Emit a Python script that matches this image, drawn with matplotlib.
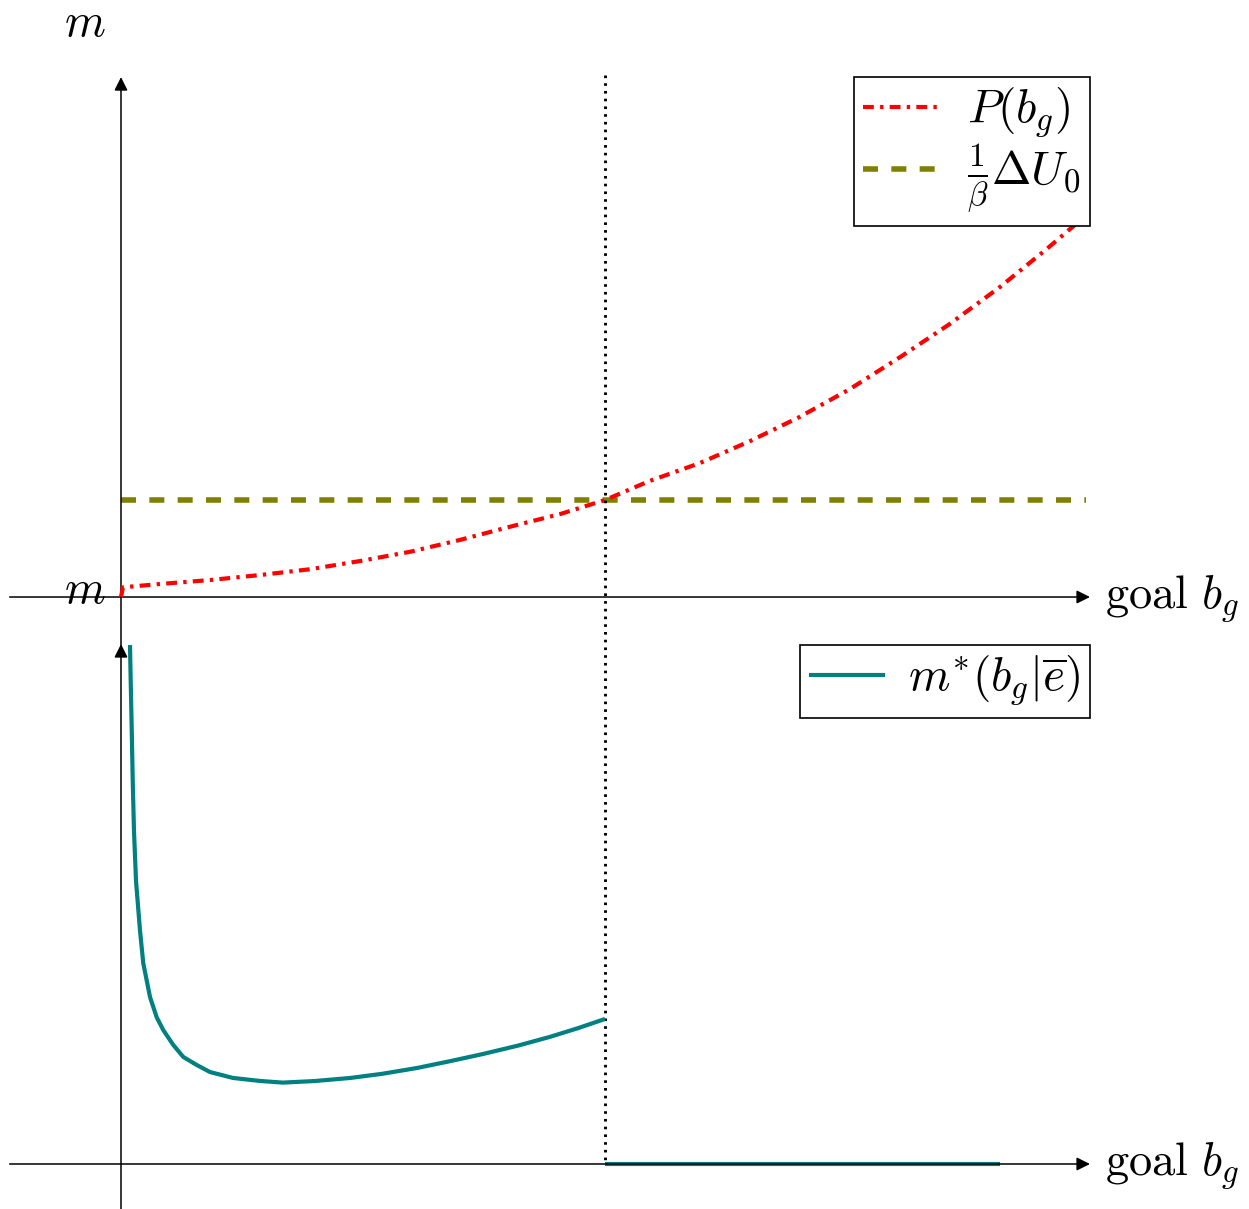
import matplotlib
matplotlib.use("Agg")
import matplotlib.pyplot as plt

plt.rcParams["mathtext.fontset"] = "cm"
plt.rcParams["font.family"] = ["DejaVu Serif"]

# P(b_g) curve
p_x = [0.0, 0.02, 0.4, 0.92, 1.44, 1.95, 2.47, 2.99, 3.5, 4.02, 4.54, 5.0,
       5.46, 5.98, 6.5, 7.01, 7.53, 8.05, 8.56, 9.08, 9.55, 10.0]
p_y = [0.0, 0.10, 0.134, 0.175, 0.227, 0.286, 0.371, 0.467, 0.588, 0.725,
       0.856, 1.0, 1.196, 1.381, 1.608, 1.856, 2.144, 2.474, 2.814, 3.196,
       3.577, 3.96]

# (1/beta) Delta U_0 level
du_x = [0.0, 9.97]
du_y = [1.0, 1.0]

# m*(b_g | e) : falling branch up to the threshold, then zero
m_x = [0.093, 0.100, 0.111, 0.121, 0.134, 0.155, 0.196, 0.230, 0.300, 0.369,
       0.437, 0.540, 0.644, 0.782, 0.919, 1.157, 1.436, 1.67, 2.0, 2.37,
       2.7, 3.06, 3.4, 3.74, 4.1, 4.43, 4.72, 5.0]
m_y = [5.35, 4.99, 4.47, 3.96, 3.44, 2.92, 2.41, 2.07, 1.72, 1.512,
       1.38, 1.227, 1.103, 1.021, 0.948, 0.887, 0.856, 0.839, 0.855, 0.887,
       0.93, 0.99, 1.06, 1.134, 1.22, 1.31, 1.40, 1.495]
zero_x = [5.0, 9.08]
zero_y = [0.0, 0.0]

b_star = 5.0

W, H = 1249, 1209
fig = plt.figure(figsize=(W / 100, H / 100), dpi=100)
ax1 = fig.add_axes([0, 589 / H, 1, 620 / H])
ax2 = fig.add_axes([0, 0, 1, 589 / H])
for ax in (ax1, ax2):
    ax.set_xlim(-1.25, 11.653)
    ax.axis("off")
ax1.set_ylim(-0.237, 6.155)
ax2.set_ylim(-0.464, 5.608)

arrow = dict(arrowstyle="-|>,head_length=0.4,head_width=0.2", lw=1.1,
             color="black", mutation_scale=20, shrinkA=0, shrinkB=0)

fs = 33.5
for ax in (ax1, ax2):
    ax.annotate("", xy=(10.01, 0), xytext=(-1.15, 0), arrowprops=arrow,
                annotation_clip=False)
    ax.annotate("", xy=(0, 5.36), xytext=(0, -0.5), arrowprops=arrow,
                annotation_clip=False)
    ax.text(10.17, -0.11, r"$\mathrm{goal}\ b_g$", fontsize=fs, va="baseline",
            ha="left")
    ax.text(-0.37, 5.91, r"$m$", fontsize=fs, va="center", ha="center")

ax1.plot(p_x, p_y, color="#ff0000", lw=3.0,
         linestyle=(0, (2.6, 1.5, 0.8, 1.5)), label=r"$P(b_g)$", zorder=3)
ax1.plot(du_x, du_y, color="#808000", lw=4.0, linestyle=(0, (2.7, 2.4)),
         label=r"$\frac{1}{\beta}\Delta U_0$", zorder=2)

ax2.plot(m_x, m_y, color="#008080", lw=3.0, label=r"$m^{*}(b_g|\overline{e})$",
         solid_capstyle="butt", solid_joinstyle="round")
ax2.plot(zero_x, zero_y, color="#008080", lw=3.0, solid_capstyle="butt")

# threshold line through both panels
y_low = ax1.transData.inverted().transform(
    ax2.transData.transform((b_star, 0)))[1]
ax1.plot([b_star, b_star], [5.38, y_low], color="black", lw=2.1,
         linestyle=(0, (0.9, 1.75)), clip_on=False, zorder=4)

leg_kw = dict(fontsize=34, frameon=True, fancybox=False, edgecolor="black",
              framealpha=1, borderaxespad=0, borderpad=0.2,
              labelspacing=0.05,
              bbox_transform=fig.transFigure, loc="upper right")
l1 = ax1.legend(handlelength=1.6, handletextpad=0.6,
                bbox_to_anchor=(1090 / W, 1 - 77 / H), **leg_kw)
l2 = ax2.legend(handlelength=1.6, handletextpad=0.5,
                bbox_to_anchor=(1090 / W, 1 - 645 / H), **leg_kw)
for l in (l1, l2):
    l.get_frame().set_linewidth(1.2)

fig.savefig("out.png", dpi=100)
plt.close(fig)
